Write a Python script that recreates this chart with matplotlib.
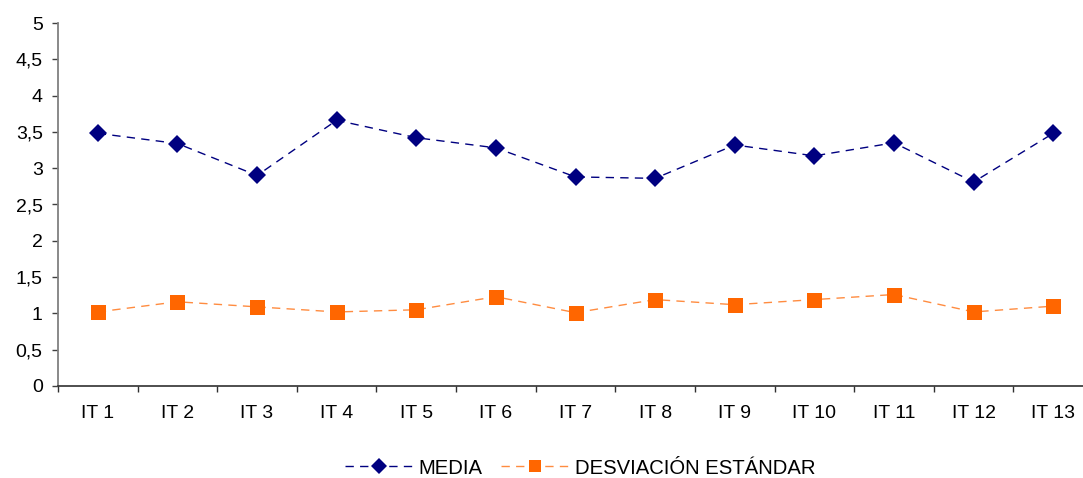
import matplotlib
matplotlib.use("Agg")
import matplotlib.pyplot as plt
from matplotlib.ticker import FixedLocator, FuncFormatter

plt.rcParams['font.family'] = ['Liberation Sans', 'DejaVu Sans']

categories = ["IT 1", "IT 2", "IT 3", "IT 4", "IT 5", "IT 6", "IT 7",
              "IT 8", "IT 9", "IT 10", "IT 11", "IT 12", "IT 13"]
media = [3.48, 3.34, 2.90, 3.66, 3.42, 3.28, 2.88, 2.86, 3.32, 3.17, 3.35, 2.81, 3.48]
desviacion = [1.02, 1.16, 1.09, 1.02, 1.05, 1.23, 1.01, 1.19, 1.12, 1.19, 1.26, 1.02, 1.10]
y_ticks = [0, 0.5, 1, 1.5, 2, 2.5, 3, 3.5, 4, 4.5, 5]

W, H = 1083, 478
fig = plt.figure(figsize=(W / 100, H / 100), dpi=100)
# plot area runs past the right edge of the canvas
ax = fig.add_axes([58 / W, 1 - 386 / H, (1093 - 58) / W, (386 - 23) / H])

x = list(range(len(categories)))
ax.plot(x, media, color='#000080', lw=1.0, dashes=(6, 4.5),
        marker='D', markersize=9, markerfacecolor='#000080',
        markeredgewidth=0, label='MEDIA')
ax.plot(x, desviacion, color='#FF8C40', lw=1.0, dashes=(6, 4.5),
        marker='s', markersize=10.8, markerfacecolor='#FF6600',
        markeredgewidth=0, label='DESVIACIÓN ESTÁNDAR')

ax.set_xlim(-0.5, len(categories) - 0.5)
ax.set_ylim(0, 5)

# category boundaries carry the tick marks, centres carry the labels
ax.xaxis.set_major_locator(FixedLocator([i - 0.5 for i in range(len(categories) + 1)]))
ax.xaxis.set_major_formatter(FuncFormatter(lambda v, p: ''))
ax.xaxis.set_minor_locator(FixedLocator(x))
ax.set_xticklabels(categories, minor=True)
ax.tick_params(axis='x', which='major', length=4.5, width=1, color='#303030', direction='out')
ax.tick_params(axis='x', which='minor', length=0, pad=14, labelsize=14)

ax.set_yticks(y_ticks)
ax.yaxis.set_major_formatter(FuncFormatter(lambda v, p: f"{v:g}".replace('.', ',')))
ax.tick_params(axis='y', length=4.5, width=1, color='#404040', direction='out', pad=6.5, labelsize=14)

for side in ('top', 'right'):
    ax.spines[side].set_visible(False)
ax.spines['left'].set_color('#808080')
ax.spines['left'].set_linewidth(1.3)
ax.spines['bottom'].set_color('#303030')
ax.spines['bottom'].set_linewidth(1.2)

fig.legend(loc='center', bbox_to_anchor=(580 / W, 1 - 468 / H), ncol=2,
           frameon=False, fontsize=14.6, handlelength=3.4, columnspacing=0.9,
           handletextpad=0.25, markerscale=0.85, borderpad=0)

fig.savefig('out.png', dpi=100)
